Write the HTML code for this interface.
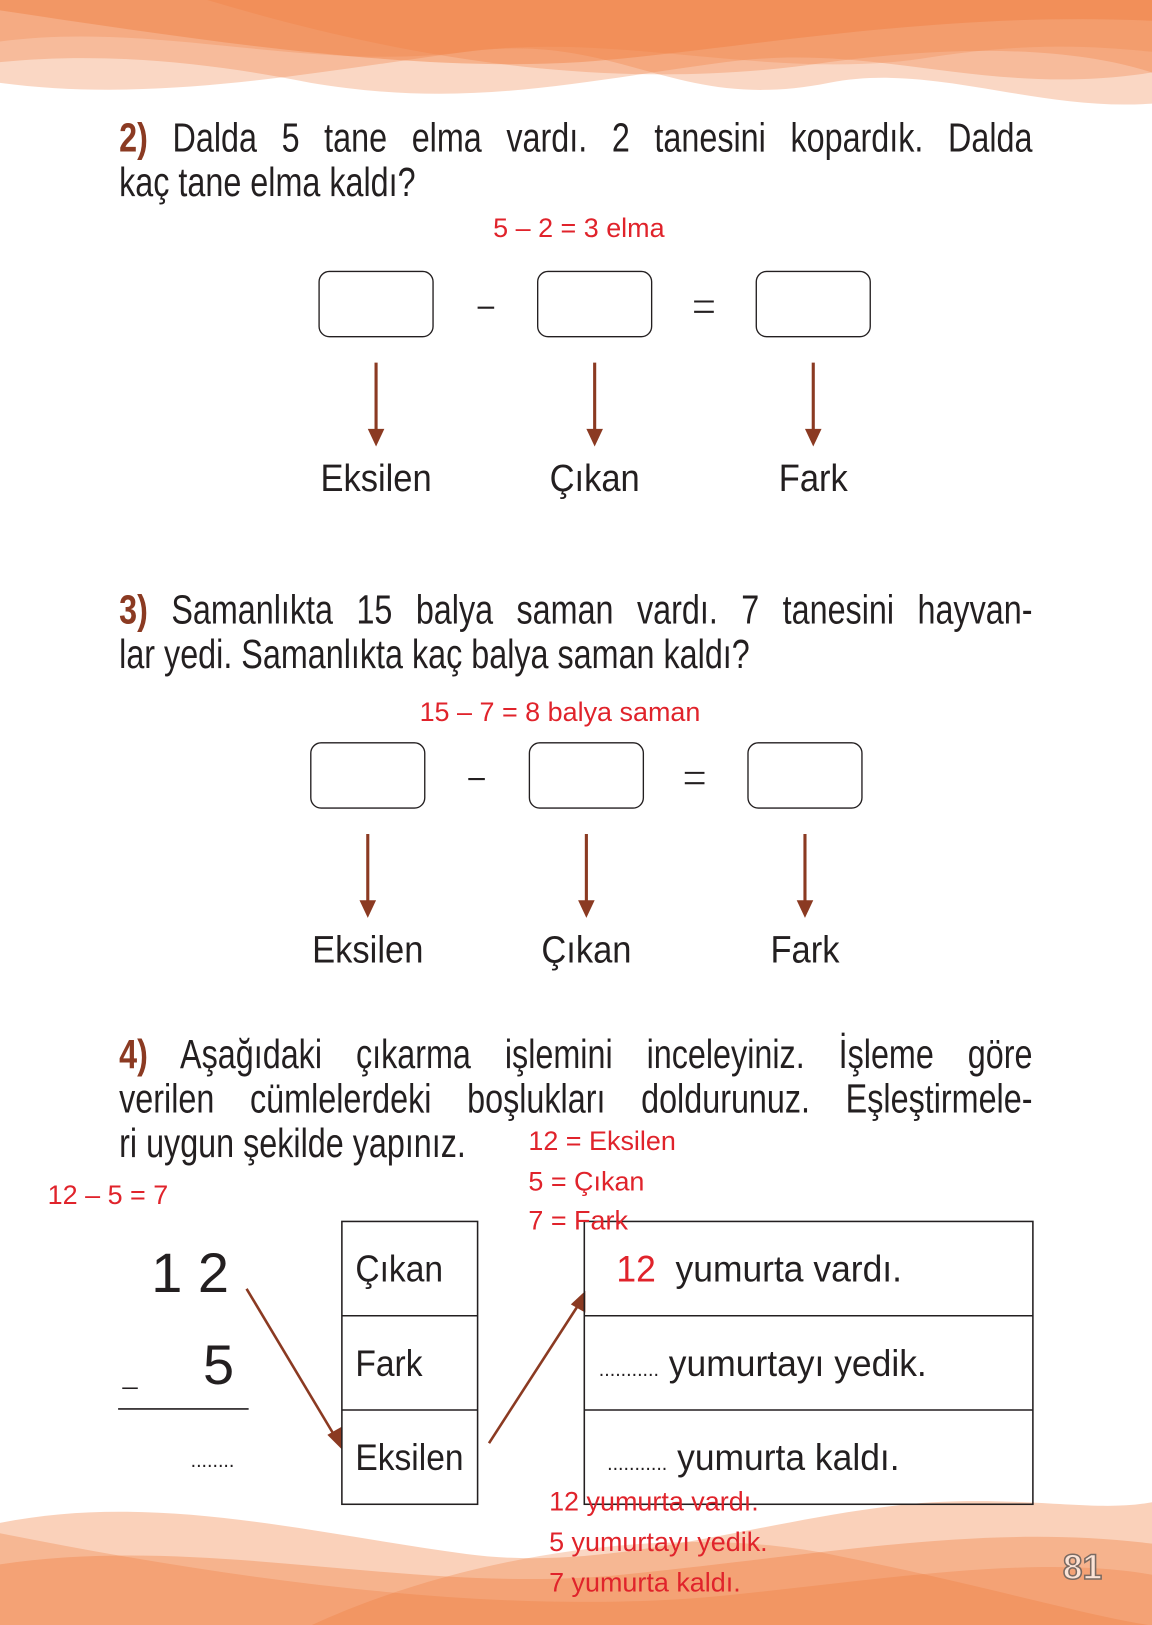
<!DOCTYPE html>
<html><head><meta charset="utf-8"><style>
html,body{margin:0;padding:0;background:#fff;}
body{width:1152px;height:1625px;overflow:hidden;position:relative;}
#w{position:absolute;left:0;top:0;width:1112px;height:1569px;transform:scale(1.036);transform-origin:0 0;}
.t{position:absolute;font-family:"Liberation Sans",sans-serif;color:#231f20;white-space:nowrap;line-height:1;transform:scaleX(0.95);transform-origin:0 0;}
.r{position:absolute;font-family:"Liberation Sans",sans-serif;color:#e0232b;white-space:nowrap;line-height:1;font-size:26px;}
.b{color:#8b3a22;font-weight:bold;}
.q{position:absolute;left:115px;width:1102px;font-family:"Liberation Sans",sans-serif;font-size:39px;color:#231f20;line-height:43px;text-align:justify;text-align-last:justify;white-space:nowrap;transform:scaleX(0.8);transform-origin:0 0;}
.q2{text-align-last:left;}
.lab{position:absolute;font-family:"Liberation Sans",sans-serif;font-size:37px;color:#231f20;width:160px;text-align:center;line-height:1;transform:scaleX(0.9);}
</style></head><body><div id="w">
<svg width="1112" height="1569" style="position:absolute;left:0;top:0">
<g fill="#f07a3a">
<path d="M0 0H1112V100C1000 108 900 60 800 80 650 110 600 30 450 50 300 70 150 100 0 80Z" opacity="0.3"/>
<path d="M0 0H1112V70C950 95 850 40 700 60 550 80 450 105 300 80 200 60 100 50 0 60Z" opacity="0.3"/>
<path d="M0 10C200 40 400 70 560 60 700 50 900 10 1112 20V0H0Z" opacity="0.4"/>
<path d="M200 0C400 60 600 90 800 60 950 40 1050 50 1112 70V0Z" opacity="0.3"/>
<path d="M0 40C150 20 300 70 450 50 600 30 750 80 900 55 1000 40 1060 45 1112 50V0H0Z" opacity="0.25"/>
<path d="M0 1569V1470C150 1440 300 1480 450 1500 600 1520 750 1460 900 1450 1000 1445 1060 1460 1112 1450V1569Z" opacity="0.35"/>
<path d="M0 1569V1510C200 1480 400 1540 600 1520 800 1500 950 1470 1112 1490V1569Z" opacity="0.35"/>
<path d="M0 1480C250 1530 500 1560 700 1540 850 1525 1000 1500 1112 1520V1569H0Z" opacity="0.3"/>
<path d="M300 1569C450 1500 650 1470 800 1500 950 1530 1050 1560 1112 1569Z" opacity="0.3"/>
</g>
<g fill="none" stroke="#231f20" stroke-width="1.3">
<rect x="308" y="262" width="110" height="63" rx="10"/>
<rect x="519" y="262" width="110" height="63" rx="10"/>
<rect x="730" y="262" width="110" height="63" rx="10"/>
<rect x="300" y="717" width="110" height="63" rx="10"/>
<rect x="511" y="717" width="110" height="63" rx="10"/>
<rect x="722" y="717" width="110" height="63" rx="10"/>
</g>
<g stroke="#231f20" stroke-width="2">
<line x1="461" y1="297" x2="477" y2="297"/>
<line x1="670" y1="291" x2="689" y2="291"/><line x1="670" y1="301" x2="689" y2="301"/>
<line x1="452" y1="752" x2="468" y2="752"/>
<line x1="661" y1="746" x2="680" y2="746"/><line x1="661" y1="756" x2="680" y2="756"/>
</g>
<g stroke="#8b3a22" stroke-width="3" fill="#8b3a22">
<line x1="363" y1="350" x2="363" y2="418"/><path d="M355 414H371L363 431Z" stroke="none"/>
<line x1="574" y1="350" x2="574" y2="418"/><path d="M566 414H582L574 431Z" stroke="none"/>
<line x1="785" y1="350" x2="785" y2="418"/><path d="M777 414H793L785 431Z" stroke="none"/>
<line x1="355" y1="805" x2="355" y2="873"/><path d="M347 869H363L355 886Z" stroke="none"/>
<line x1="566" y1="805" x2="566" y2="873"/><path d="M558 869H574L566 886Z" stroke="none"/>
<line x1="777" y1="805" x2="777" y2="873"/><path d="M769 869H785L777 886Z" stroke="none"/>
<line x1="238" y1="1244" x2="323" y2="1386" stroke-width="2.5"/><path d="M316 1385L330 1377L330 1399Z" stroke="none"/>
<line x1="472" y1="1393" x2="558" y2="1260" stroke-width="2.5"/><path d="M551 1259L565 1267L565 1246Z" stroke="none"/>
</g>
<g fill="none" stroke="#231f20" stroke-width="1.5">
<rect x="330" y="1179" width="131" height="273"/>
<line x1="330" y1="1270" x2="461" y2="1270"/><line x1="330" y1="1361" x2="461" y2="1361"/>
<rect x="564" y="1179" width="433" height="273"/>
<line x1="564" y1="1270" x2="997" y2="1270"/><line x1="564" y1="1361" x2="997" y2="1361"/>
<line x1="114" y1="1360" x2="240" y2="1360"/>
<line x1="118" y1="1340" x2="133" y2="1340"/>
</g>
<text x="1026" y="1524" font-family="Liberation Sans" font-weight="bold" font-size="34" fill="#fbe3d6" stroke="#7a6a62" stroke-width="1.5">81</text>
</svg>

<div class="q" style="top:112px"><span class="b">2)</span> Dalda 5 tane elma vardı. 2 tanesini kopardık. Dalda</div>
<div class="q q2" style="top:155px">kaç tane elma kaldı?</div>
<div class="r" style="left:476px;top:207px">5 – 2 = 3 elma</div>
<div class="lab" style="left:283px;top:443px">Eksilen</div>
<div class="lab" style="left:494px;top:443px">Çıkan</div>
<div class="lab" style="left:705px;top:443px">Fark</div>

<div class="q" style="top:568px"><span class="b">3)</span> Samanlıkta 15 balya saman vardı. 7 tanesini hayvan-</div>
<div class="q q2" style="top:611px">lar yedi. Samanlıkta kaç balya saman kaldı?</div>
<div class="r" style="left:405px;top:674px">15 – 7 = 8 balya saman</div>
<div class="lab" style="left:275px;top:898px">Eksilen</div>
<div class="lab" style="left:486px;top:898px">Çıkan</div>
<div class="lab" style="left:697px;top:898px">Fark</div>

<div class="q" style="top:997px"><span class="b">4)</span> Aşağıdaki çıkarma işlemini inceleyiniz. İşleme göre</div>
<div class="q" style="top:1040px">verilen cümlelerdeki boşlukları doldurunuz. Eşleştirmele-</div>
<div class="q q2" style="top:1083px">ri uygun şekilde yapınız.</div>
<div class="r" style="left:510px;top:1088px">12 = Eksilen</div>
<div class="r" style="left:510px;top:1127px">5 = Çıkan</div>
<div class="r" style="left:510px;top:1165px">7 = Fark</div>
<div class="r" style="left:46px;top:1140px">12 – 5 = 7</div>

<div class="t" style="left:146px;top:1202px;font-size:54px;transform:none">1 2</div>
<div class="t" style="left:196px;top:1291px;font-size:54px;transform:none">5</div>
<div class="t" style="left:184px;top:1400px;font-size:20px">........</div>

<div class="t" style="left:343px;top:1207px;font-size:36px;transform:scaleX(0.9)">Çıkan</div>
<div class="t" style="left:343px;top:1298px;font-size:36px;transform:scaleX(0.9)">Fark</div>
<div class="t" style="left:343px;top:1389px;font-size:36px;transform:scaleX(0.9)">Eksilen</div>

<div class="t" style="left:595px;top:1207px;font-size:36px"><span style="color:#e0232b">12</span>&nbsp; yumurta vardı.</div>
<div class="t" style="left:578px;top:1298px;font-size:36px"><span style="font-size:20px">...........</span> yumurtayı yedik.</div>
<div class="t" style="left:586px;top:1389px;font-size:36px"><span style="font-size:20px">...........</span> yumurta kaldı.</div>

<div class="r" style="left:530px;top:1436px">12 yumurta vardı.</div>
<div class="r" style="left:530px;top:1475px">5 yumurtayı yedik.</div>
<div class="r" style="left:530px;top:1514px">7 yumurta kaldı.</div>
</div></body></html>
